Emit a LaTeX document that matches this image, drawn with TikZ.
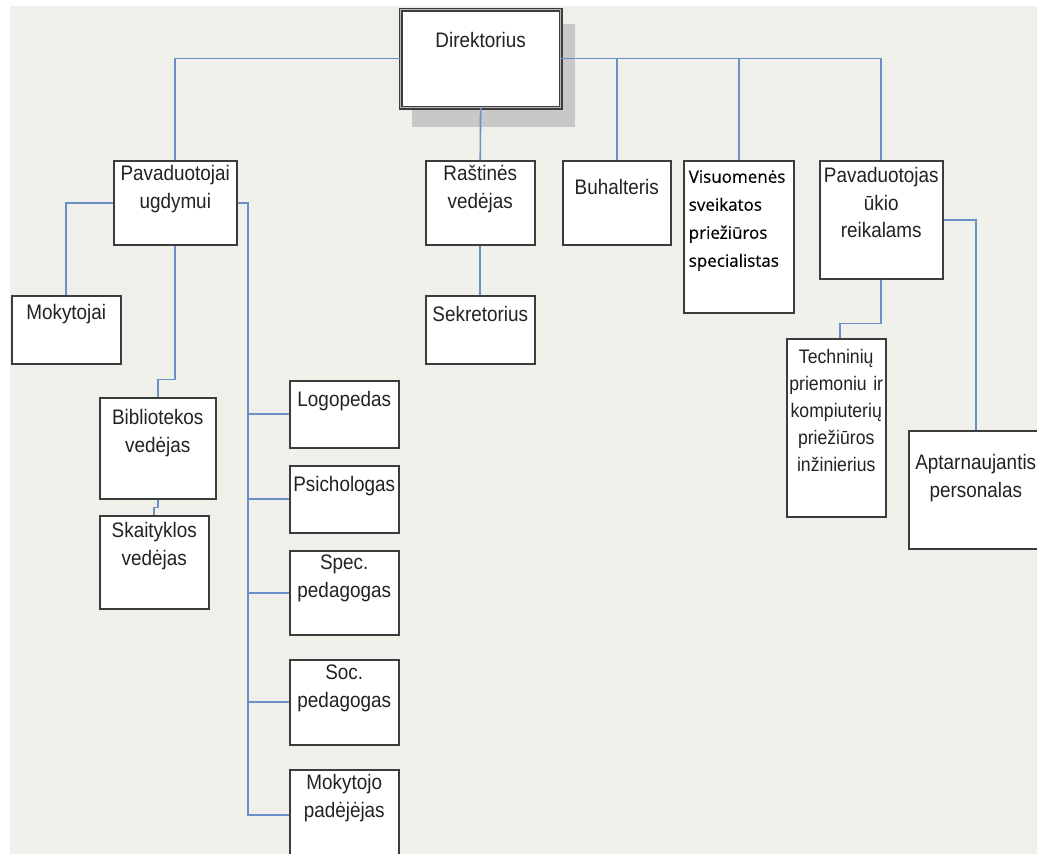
\documentclass[tikz,border=0pt]{standalone}
\usepackage{fontspec}
\setmainfont{Liberation Sans}[FakeStretch=0.9]
\newfontfamily\visfont{Open Sans}[FakeBold=0.4]
\definecolor{bgcol}{HTML}{F0F0EA}
\definecolor{boxgray}{HTML}{3C3C3C}
\definecolor{linkblue}{HTML}{6B8FC7}
\definecolor{shadowgray}{HTML}{C8C8C8}
\definecolor{txtgray}{HTML}{222222}
\begin{document}
\begin{tikzpicture}[x=1pt,y=-1pt,
  box/.style={draw=boxgray,line width=1.5pt,fill=white,inner sep=0pt,anchor=north west,
    align=center,text=txtgray,font=\fontsize{21}{27.5}\selectfont},
  link/.style={draw=linkblue,line width=1.6pt}]
\useasboundingbox (0,0) rectangle (1037,854);
\fill[bgcol] (10,6) rectangle (1037,854);

% Director with shadow
\fill[shadowgray] (412,24) rectangle (575,127);
\node[box,line width=1.2pt,double=gray!55,double distance=1.5pt,text width=160pt,text height=38pt,text depth=60pt] (dir) at (400,9) {Direktorius};

% Deputy for education and staff
\node[box,text width=123pt,text height=20pt,text depth=64pt] (pavug) at (113,160) {Pavaduotojai\\ugdymui};
\node[box,text width=109pt,text height=24pt,text depth=44pt] (mokyt) at (11,295) {Mokytojai};
\node[box,text width=116pt,text height=27pt,text depth=74pt] (bibl) at (99,397) {Bibliotekos\\vedėjas};
\node[box,text width=109pt,text height=22pt,text depth=71pt] (skait) at (99,515) {Skaityklos\\vedėjas};
\node[box,text width=109pt,text height=26pt,text depth=41pt] (logo) at (289,380) {Logopedas};
\node[box,text width=109pt,text height=26pt,text depth=41pt] (psich) at (289,465) {Psichologas};
\node[box,text width=109pt,text height=19pt,text depth=65pt] (spec) at (289,550) {Spec.\\pedagogas};
\node[box,text width=109pt,text height=20pt,text depth=65pt] (soc) at (289,659) {Soc.\\pedagogas};
\node[box,text width=109pt,text height=20pt,text depth=70pt] (mokpad) at (289,769) {Mokytojo\\padėjėjas};

% Office
\node[box,text width=109pt,text height=20pt,text depth=64pt] (rast) at (425,160) {Raštinės\\vedėjas};
\node[box,text width=109pt,text height=26pt,text depth=42pt] (sekr) at (425,295) {Sekretorius};
\node[box,text width=108pt,text height=34pt,text depth=50pt] (buh) at (562,160) {Buhalteris};
\node[box,inner xsep=5pt,align=left,text width=100pt,text height=22pt,text depth=130pt,text=black,
  font=\visfont\fontsize{17}{28}\selectfont] (visu) at (683,160) {Visuomenės\\sveikatos\\priežiūros\\specialistas};

% Deputy for maintenance
\node[box,text width=123pt,text height=22pt,text depth=96pt] (pavuk) at (819,160) {Pavaduotojas\\ūkio\\reikalams};
\node[box,text width=99pt,text height=25pt,text depth=153pt,
  font=\fontsize{19.6}{27}\selectfont] (tech) at (786,338) {Techninių\\priemoniu ir\\kompiuterių\\priežiūros\\inžinierius};
\node[box,text width=134pt,text height=39pt,text depth=79pt] (aptarn) at (908,430) {Aptarnaujantis\\personalas};

% Connections
\draw[link] (dir.west) -| (pavug.north);
\draw[link] (dir.east) -| (pavuk.north);
\draw[link] (dir.south) -- (rast.north);
\draw[link] (buh.north) -- (buh.north |- dir.east);
\draw[link] (visu.north) -- (visu.north |- dir.east);
\draw[link] (rast.south) -- (sekr.north);

\coordinate (spine) at (248,202);
\draw[link] (pavug.east) -| (spine |- mokpad.west) -- (mokpad.west);
\foreach \n in {logo,psich,spec,soc}
  \draw[link] (spine |- \n.west) -- (\n.west);
\draw[link] (pavug.west) -| (mokyt.north);
\draw[link] (pavug.south) -- ++(0,134) -| (bibl.north);
\draw[link] (bibl.south) -- ++(0,8) -| (skait.north);

\draw[link] (pavuk.south) -- ++(0,44) -| ([xshift=4pt]tech.north);
\draw[link] (pavuk.east) -| (aptarn.north);
\end{tikzpicture}
\end{document}
